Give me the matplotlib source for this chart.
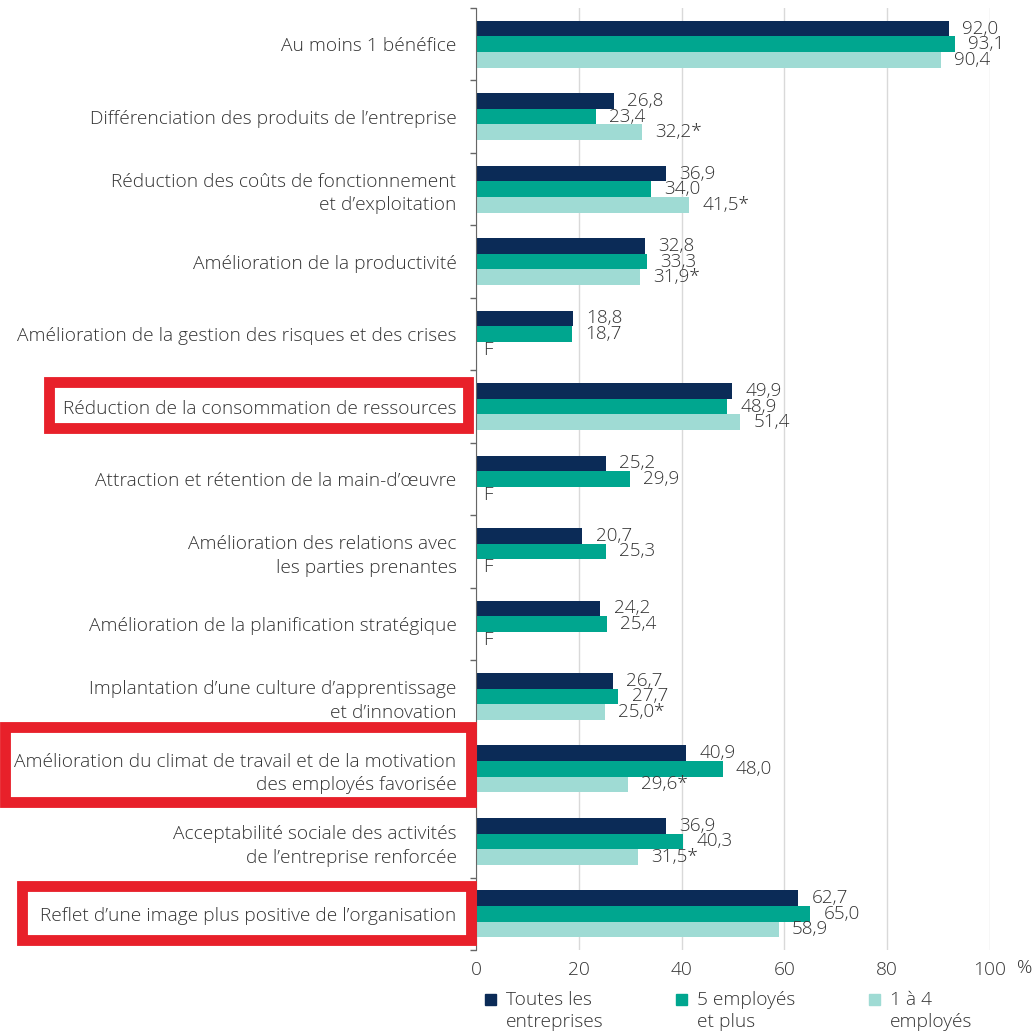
import numpy as np
import matplotlib
matplotlib.use("Agg")
import matplotlib.pyplot as plt
from matplotlib.patches import Rectangle

plt.rcParams['font.family'] = ['Open Sans', 'DejaVu Sans']
plt.rcParams['font.weight'] = 'light'

# données (%)
categories = [
    "Au moins 1 bénéfice",
    "Différenciation des produits de l’entreprise",
    "Réduction des coûts de fonctionnement\net d’exploitation",
    "Amélioration de la productivité",
    "Amélioration de la gestion des risques et des crises",
    "Réduction de la consommation de ressources",
    "Attraction et rétention de la main-d’œuvre",
    "Amélioration des relations avec\nles parties prenantes",
    "Amélioration de la planification stratégique",
    "Implantation d’une culture d’apprentissage\net d’innovation",
    "Amélioration du climat de travail et de la motivation\ndes employés favorisée",
    "Acceptabilité sociale des activités\nde l’entreprise renforcée",
    "Reflet d’une image plus positive de l’organisation",
]
toutes = [92.0, 26.8, 36.9, 32.8, 18.8, 49.9, 25.2, 20.7, 24.2, 26.7, 40.9, 36.9, 62.7]
plus5 = [93.1, 23.4, 34.0, 33.3, 18.7, 48.9, 29.9, 25.3, 25.4, 27.7, 48.0, 40.3, 65.0]
un_a_4 = [90.4, 32.2, 41.5, 31.9, None, 51.4, None, None, None, 25.0, 29.6, 31.5, 58.9]
# * = à interpréter avec prudence ; None = F (trop peu fiable)
un_a_4_star = [False, True, True, True, False, False, False, False, False, True, True, True, False]

series_labels = ["Toutes les\nentreprises", "5 employés\net plus", "1 à 4\nemployés"]
colors = ["#0b2b57", "#00a68f", "#9fdbd4"]
xticks = [0, 20, 40, 60, 80, 100]

# libellés surlignés en rouge (coords figure en pixels: x0, y0, x1, y1)
highlight_boxes = [(49, 382, 468, 428), (5, 727, 471, 802), (22, 886, 471, 940)]

W, H = 1033, 1035
txt_color = "#333333"
fs = 13.8
fs_val = 13.6

fig = plt.figure(figsize=(W / 100, H / 100), dpi=100)
ax = fig.add_axes([476 / W, 1 - 950 / H, (990 - 476) / W, (950 - 8) / H])

y = np.arange(len(categories))
bh = 0.215
all_series = [toutes, plus5, un_a_4]
stars = [[False] * len(categories), [False] * len(categories), un_a_4_star]

for k, (vals, col, st) in enumerate(zip(all_series, colors, stars)):
    yy = y + (k - 1) * bh
    v = np.array([np.nan if a is None else a for a in vals])
    ax.barh(yy, np.nan_to_num(v), height=bh, color=col, zorder=3)
    for yi, a, s in zip(yy, vals, st):
        if a is None:
            ax.annotate("F", (0, yi), xytext=(5, 0), textcoords="offset points",
                        va="center", ha="left", fontsize=fs_val, color=txt_color)
        else:
            lab = f"{a:.1f}".replace(".", ",") + ("*" if s else "")
            ax.annotate(lab, (a, yi), xytext=(9.5, 0), textcoords="offset points",
                        va="center", ha="left", fontsize=fs_val, color=txt_color)

ax.set_ylim(len(categories) - 0.5, -0.5)
ax.set_xlim(0, 100)
ax.set_yticks(y)
ax.set_yticklabels(categories, fontsize=fs, color=txt_color, ha="right",
                   linespacing=1.38)
ax.set_yticks(np.arange(-0.5, len(categories), 1.0), minor=True)
ax.tick_params(axis="y", which="major", length=0, pad=14)
ax.tick_params(axis="y", which="minor", length=4, width=1, color="#666666")
ax.set_xticks(xticks)
ax.set_xticklabels([str(t) for t in xticks], fontsize=fs, color=txt_color)
ax.tick_params(axis="x", length=0, pad=8)
ax.grid(axis="x", color="#d9d9d9", linewidth=1, zorder=0)
for s in ["top", "right", "bottom"]:
    ax.spines[s].set_visible(False)
ax.spines["left"].set_color("#666666")
ax.spines["left"].set_zorder(4)
fig.text(1017 / W, 1 - 968 / H, "%", fontsize=fs, color=txt_color, va="center", ha="left")

for x0, y0, x1, y1 in highlight_boxes:
    fig.add_artist(Rectangle((x0 / W, 1 - y1 / H), (x1 - x0) / W, (y1 - y0) / H,
                             transform=fig.transFigure, fill=False,
                             edgecolor="#e8202a", linewidth=7.8, zorder=10))

# légende
leg_x = [485, 676, 869]
for lx, lab, col in zip(leg_x, series_labels, colors):
    fig.add_artist(Rectangle((lx / W, 1 - 1005 / H), 11 / W, 11 / H,
                             transform=fig.transFigure, color=col))
    fig.text((lx + 21) / W, 1 - 991 / H, lab, fontsize=fs, color=txt_color,
             va="top", ha="left", linespacing=1.3)

fig.savefig("out.png", dpi=100)
